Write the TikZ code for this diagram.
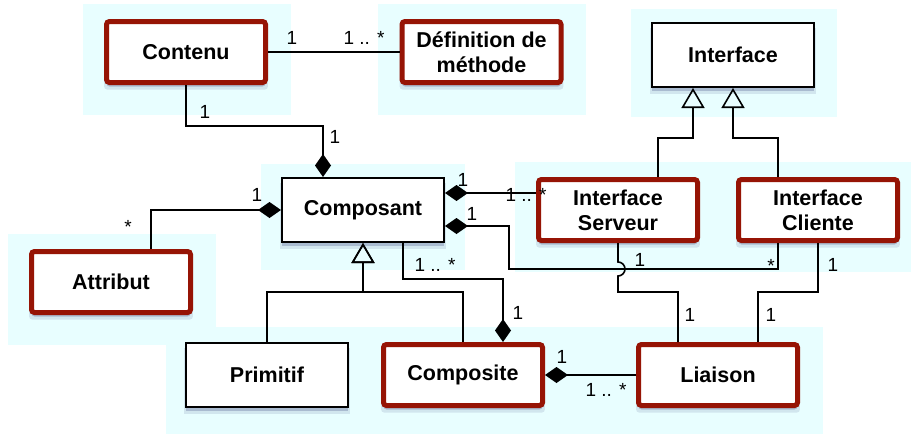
\documentclass[tikz,border=0pt]{standalone}
\usepackage{fontspec}
\setmainfont{Liberation Sans}
\usetikzlibrary{arrows.meta,shadows}
\definecolor{boxred}{RGB}{150,20,5}
\definecolor{panel}{RGB}{232,254,255}
\definecolor{shade}{RGB}{50,60,120}
\tikzstyle{classbox} = [draw=black,fill=white,line width=2pt,rectangle,
  minimum width=162pt,minimum height=64pt,inner sep=0pt,align=center,
  font=\fontsize{21.5}{25}\selectfont\bfseries,
  drop shadow={shadow xshift=0pt,shadow yshift=-6pt,shadow scale=1.03,opacity=.12,fill=shade},
  drop shadow={shadow xshift=0pt,shadow yshift=-4pt,opacity=.25,fill=shade}]
\tikzstyle{redbox} = [classbox,draw=boxred,line width=5pt,rounded corners=3pt,
  minimum width=159pt,minimum height=61pt]
\tikzstyle{mult} = [inner sep=0pt,font=\fontsize{19}{22}\selectfont]
\tikzstyle{assoc} = [line width=1.6pt]
\tikzstyle{compo} = [assoc,-{Diamond[length=23pt,width=16pt]}]
\tikzstyle{herit} = [assoc,-{Triangle[open,length=20pt,width=23pt,line width=1.6pt]}]
\tikzstyle{panelbg} = [fill=panel]

\begin{document}
\begin{tikzpicture}[x=1pt,y=-1pt]
    \useasboundingbox (0,0) rectangle (911,434);
    % light panels behind the classes
    \fill[panelbg] (83,4) rectangle (291,115);
    \fill[panelbg] (378,4) rectangle (586,115);
    \fill[panelbg] (631,9) rectangle (837,117);
    \fill[panelbg] (261,164) rectangle (465,270);
    \fill[panelbg] (515,162) rectangle (911,272);
    \fill[panelbg] (8,234) rectangle (216,345);
    \fill[panelbg] (166,327) rectangle (823,434);

    % classes
    \node [redbox] (contenu) at (186,52) {Contenu};
    \node [redbox] (methode) at (481.5,52) {Définition de\\méthode};
    \node [classbox] (interface) at (733,55) {Interface};
    \node [classbox] (composant) at (363,210) {Composant};
    \node [redbox] (attribut) at (111,282) {Attribut};
    \node [redbox] (serveur) at (618,210) {Interface\\Serveur};
    \node [redbox] (cliente) at (818,210) {Interface\\Cliente};
    \node [classbox] (primitif) at (267,375) {Primitif};
    \node [redbox] (composite) at (463,375) {Composite};
    \node [redbox] (liaison) at (718,375) {Liaison};

    % associations and compositions
    \draw [assoc] (contenu.east) -- (methode.west);
    \draw [compo] (contenu.south) -- ++(0,41) -| ([xshift=-40pt]composant.north);
    \draw [compo] ([xshift=40pt]attribut.north) |- (composant.west);
    \draw [compo] ([yshift=17pt]serveur.west) -- ([yshift=17pt]composant.east);
    \draw [compo] ([xshift=-40pt]cliente.south) -- ++(0,26) -| ++(-269,-43)
      -- ([yshift=-16pt]composant.east);
    \draw [compo] ([xshift=40pt]composant.south) -- ++(0,36) -| ([xshift=40pt]composite.north);
    \draw [compo] (liaison.west) -- (composite.east);
    \draw [assoc] (serveur.south) -- ++(0,19) arc[start angle=90,end angle=-90,radius=7pt]
      -- ++(0,16) -| ([xshift=-40pt]liaison.north);
    \draw [assoc] (cliente.south) -- ++(0,49) -| ([xshift=40pt]liaison.north);

    % inheritance
    \draw [herit] (primitif.north) -- ++(0,-50) -| (composant.south);
    \draw [herit] (composite.north) -- ++(0,-50) -| (composant.south);
    \draw [herit] ([xshift=40pt]serveur.north) -- ++(0,-39) -| ([xshift=-40pt]interface.south);
    \draw [herit] ([xshift=-40pt]cliente.north) -- ++(0,-39) -| (interface.south);

    % multiplicities
    \node [mult] (mContenuA) at (292,38) {1};
    \node [mult] (mMethode) at (364,38) {1 .. *};
    \node [mult] (mContenuB) at (205,112) {1};
    \node [mult] (mComposantA) at (335,137) {1};
    \node [mult] (mAttribut) at (128,227) {*};
    \node [mult] (mComposantB) at (257,195) {1};
    \node [mult] (mComposantC) at (463,180) {1};
    \node [mult] (mServeurA) at (526,195) {1 .. *};
    \node [mult] (mComposantD) at (472,214) {1};
    \node [mult] (mClienteA) at (771,266) {*};
    \node [mult] (mServeurB) at (640,260) {1};
    \node [mult] (mClienteB) at (833,265) {1};
    \node [mult] (mLiaisonA) at (690,315) {1};
    \node [mult] (mLiaisonB) at (771,315) {1};
    \node [mult] (mComposantE) at (435,265) {1 .. *};
    \node [mult] (mCompositeA) at (518,313) {1};
    \node [mult] (mCompositeB) at (562,357) {1};
    \node [mult] (mLiaisonC) at (606,390) {1 .. *};
\end{tikzpicture}
\end{document}
